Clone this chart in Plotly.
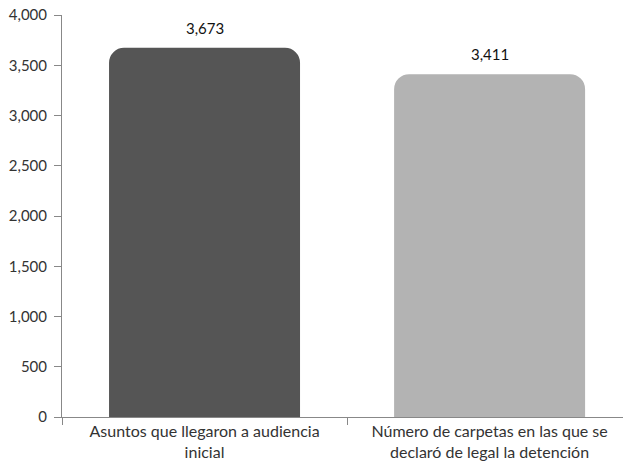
import plotly.graph_objects as go

categories = ["Asuntos que llegaron a audiencia<br>inicial",
              "Número de carpetas en las que se<br>declaró de legal la detención"]
values = [3673, 3411]
colors = ["#555555", "#b3b3b3"]
tick_vals = [0, 500, 1000, 1500, 2000, 2500, 3000, 3500, 4000]

font_family = "Lato, 'Open Sans', sans-serif"

fig = go.Figure(go.Bar(
    x=categories, y=values, marker_color=colors, width=0.67,
    marker_line_width=0,
))

for c, v in zip(categories, values):
    fig.add_annotation(x=c, y=v, text=f"{v:,}", showarrow=False, yshift=20,
                       font=dict(size=15, color="#111111", family=font_family))

fig.update_layout(
    width=623, height=461,
    margin=dict(l=62, r=0, t=15, b=44),
    paper_bgcolor="white", plot_bgcolor="white",
    barcornerradius=15,
    showlegend=False,
    font=dict(family=font_family, size=15, color="#333333"),
)
fig.update_xaxes(
    type="category", range=[-0.5, 1.468], automargin=False,
    showline=True, linecolor="#888888", linewidth=1,
    ticks="outside", tickson="boundaries", ticklen=7, tickcolor="#888888",
    showgrid=False, tickfont=dict(size=16, color="#333333"),
)
fig.update_yaxes(
    range=[0, 4000], tickvals=tick_vals, tickformat=",", automargin=False,
    showline=True, linecolor="#888888", linewidth=1,
    ticks="outside", ticklen=7, tickcolor="#888888", ticklabelstandoff=4,
    showgrid=False, zeroline=False, tickfont=dict(size=15, color="#333333"),
)

fig.write_html("out.html", config={"displayModeBar": False},
               post_script="document.body.style.margin='0';document.body.style.overflow='hidden';")
